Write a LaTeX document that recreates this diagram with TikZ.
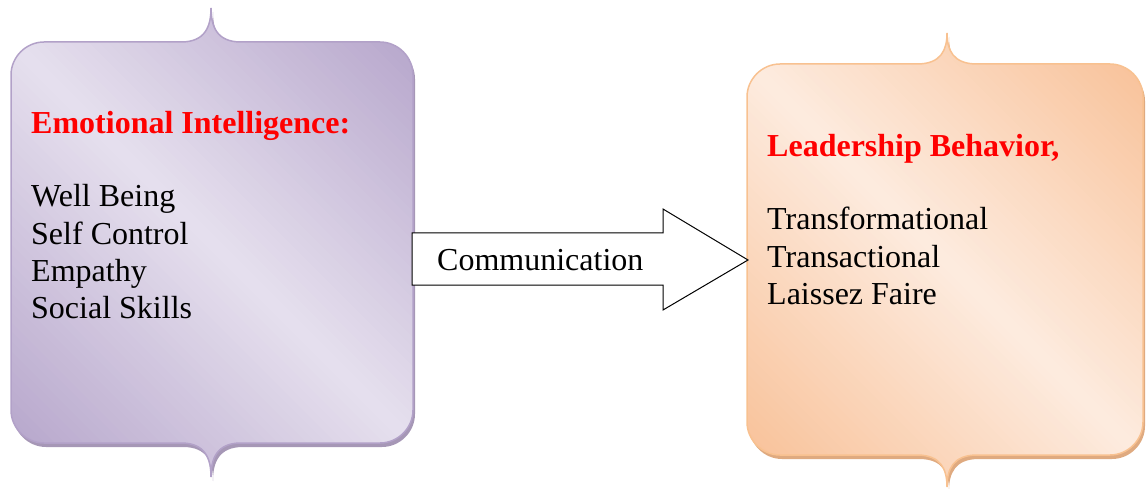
\documentclass[tikz,border=0pt]{standalone}
\usepackage{fontspec}
\setmainfont{Liberation Serif}
\definecolor{pDark}{HTML}{B3A2C9}
\definecolor{pLight}{HTML}{E6E0EE}
\definecolor{pLine}{HTML}{B2A1C8}
\definecolor{pShadow}{HTML}{A697B6}
\definecolor{oDark}{HTML}{F8BF94}
\definecolor{oLight}{HTML}{FDEBDF}
\definecolor{oLine}{HTML}{F8C190}
\definecolor{oShadow}{HTML}{DFAA80}
\definecolor{hdr}{HTML}{FF0000}
% brace box: #1 L, #2 R, #3 T, #4 B, #5 C, #6 top cusp height, #7 bottom cusp height
\newcommand{\bracebox}[7]{
  (#1,#3+33) .. controls (#1,#3+15) and (#1+15,#3) .. (#1+33,#3)
  -- (#5-30,#3) .. controls (#5-6,#3) and (#5,#3-#6*0.45) .. (#5,#3-#6)
  .. controls (#5,#3-#6*0.45) and (#5+6,#3) .. (#5+30,#3)
  -- (#2-33,#3) .. controls (#2-15,#3) and (#2,#3+15) .. (#2,#3+33)
  -- (#2,#4-33) .. controls (#2,#4-15) and (#2-15,#4) .. (#2-33,#4)
  -- (#5+30,#4) .. controls (#5+6,#4) and (#5,#4+#7*0.45) .. (#5,#4+#7)
  .. controls (#5,#4+#7*0.45) and (#5-6,#4) .. (#5-30,#4)
  -- (#1+33,#4) .. controls (#1+15,#4) and (#1,#4-15) .. (#1,#4-33)
  -- cycle}
% diagonal gradient strips: #1 L, #2 R, #3 T, #4 B, #5 dark, #6 light
\newcommand{\gradstrips}[6]{%
  \pgfmathsetmacro\gsMin{#3-#2}%
  \pgfmathsetmacro\gsMax{#4-#1}%
  \foreach \gi in {0,...,89}{%
    \pgfmathsetmacro\gsA{\gsMin+(\gi/90)*(\gsMax-\gsMin)}%
    \pgfmathsetmacro\gsB{\gsMin+((\gi+1)/90)*(\gsMax-\gsMin)+1.5}%
    \pgfmathsetmacro\gsT{abs(2*(\gi+0.5)/90-1)}%
    \pgfmathsetmacro\gsP{100*\gsT}%
    \fill[#5!\gsP!#6] (#1-10,#1-10+\gsA) -- (#2+10,#2+10+\gsA) -- (#2+10,#2+10+\gsB) -- (#1-10,#1-10+\gsB) -- cycle;
  }}
\tikzset{
  txt/.style={anchor=base west, inner sep=0pt, font=\fontsize{32}{37}\selectfont},
  hdrtxt/.style={txt, font=\fontsize{32}{37}\selectfont\bfseries, text=hdr},
  arrowbox/.style={draw=black, fill=white, line width=1pt, line join=miter}
}
\begin{document}
\begin{tikzpicture}[x=1pt,y=-1pt]
\useasboundingbox (0,0) rectangle (1146,489);
% left box
\fill[pShadow] [shift={(2,4)}] \bracebox{11}{413}{42}{443}{211}{34}{34};
\begin{scope}
  \clip \bracebox{11}{413}{42}{443}{211}{34}{34};
  \gradstrips{11}{413}{8}{477}{pDark}{pLight}
\end{scope}
\draw[pLine, line width=1.5pt] \bracebox{11}{413}{42}{443}{211}{34}{34};
% right box
\fill[oShadow] [shift={(2,4)}] \bracebox{747}{1143}{64}{455}{947}{31}{32};
\begin{scope}
  \clip \bracebox{747}{1143}{64}{455}{947}{31}{32};
  \gradstrips{747}{1143}{33}{487}{oDark}{oLight}
\end{scope}
\draw[oLine, line width=1.5pt] \bracebox{747}{1143}{64}{455}{947}{31}{32};
% arrow
\coordinate (atip) at (748,260);
\draw[arrowbox] (412,233) -- (663,233) -- (663,209) -- (atip) -- (663,310) -- (663,285) -- (412,285) -- cycle;
\node[txt] (comm) at (437,270) {Communication};
% left texts
\node[hdrtxt] (ei) at (31,134) {Emotional Intelligence:};
\node[txt] (wb) at (31,207) {Well Being};
\node[txt] (sc) at (31,244) {Self Control};
\node[txt] (em) at (31,281) {Empathy};
\node[txt] (ss) at (31,318) {Social Skills};
% right texts
\node[hdrtxt] (lb) at (767,157) {Leadership Behavior,};
\node[txt] (tf) at (767,230) {Transformational};
\node[txt] (ta) at (767,267) {Transactional};
\node[txt] (lf) at (767,304) {Laissez Faire};
\end{tikzpicture}
\end{document}
